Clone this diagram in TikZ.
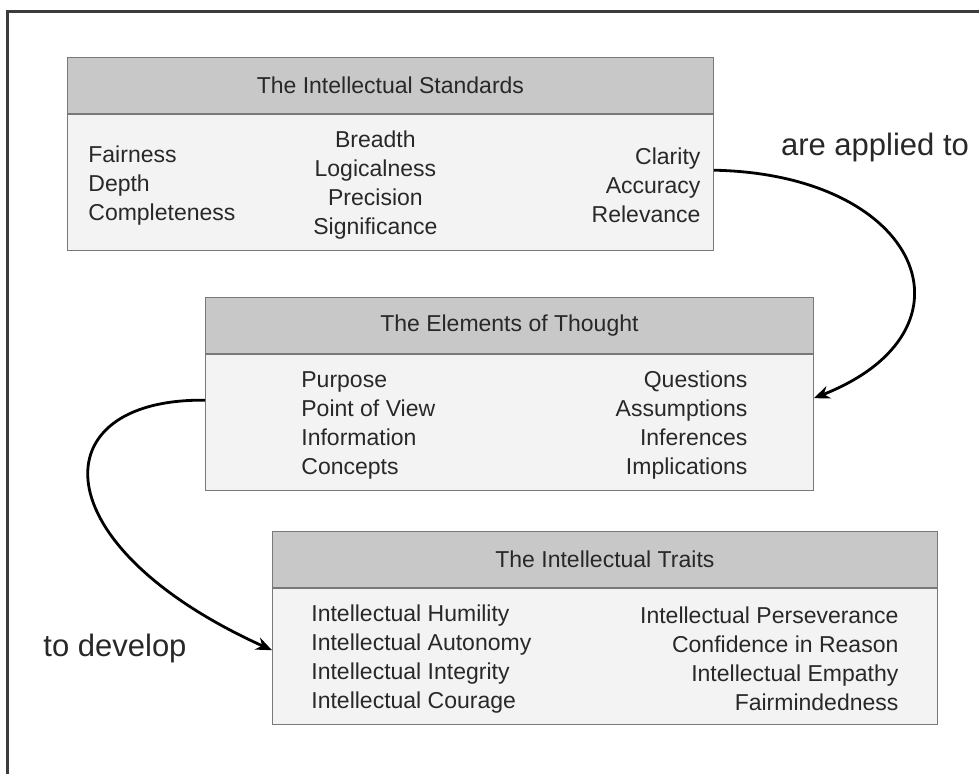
\documentclass[tikz,border=0pt]{standalone}
\usepackage{fontspec}
\setmainfont{Liberation Sans}
\usetikzlibrary{arrows.meta, positioning}

\definecolor{headgray}{RGB}{200,200,200}
\definecolor{bodygray}{RGB}{243,243,243}
\definecolor{edgegray}{RGB}{120,120,120}
\definecolor{textgray}{RGB}{40,40,40}
\definecolor{framegray}{RGB}{60,60,60}

\begin{document}
\begin{tikzpicture}[x=0.5pt, y=-0.5pt,
    head/.style={draw=edgegray, fill=headgray, text=textgray, font=\fontsize{11.5}{14.5}\selectfont, minimum height=28pt, inner sep=0pt, anchor=north west},
    body/.style={draw=edgegray, fill=bodygray, minimum height=68pt, inner sep=0pt},
    col/.style={text=textgray, font=\fontsize{11.5}{14.5}\selectfont, inner sep=0pt, yshift=-1.5pt},
    flow/.style={line width=1.4pt, -{Stealth[length=8pt, width=6.5pt]}},
    lbl/.style={text=textgray, font=\fontsize{15.5}{18}\selectfont, inner sep=0pt}]

    \useasboundingbox (0,0) rectangle (979,774);
    \clip (0,0) rectangle (979,774);
    \draw[line width=1.5pt, framegray] (7,800) -- (7,12) -- (1000,12);

    % standards
    \node[head, minimum width=323pt] (stdhead) at (67,57) {The Intellectual Standards};
    \node[body, minimum width=323pt, below=0pt of stdhead] (stdbody) {};
    \node[col, align=left, right=10.5pt of stdbody.west] (stdleft) {Fairness\\Depth\\Completeness};
    \node[col, align=center] (stdmid) at ([xshift=-7.5pt]stdbody.center) {Breadth\\Logicalness\\Precision\\Significance};
    \node[col, align=right, left=6.5pt of stdbody.east] (stdright) {Clarity\\Accuracy\\Relevance};

    % elements
    \node[head, minimum width=304pt] (elemhead) at (205,297) {The Elements of Thought};
    \node[body, minimum width=304pt, below=0pt of elemhead] (elembody) {};
    \node[col, align=left, right=48pt of elembody.west] (elemleft) {Purpose\\Point of View\\Information\\Concepts};
    \node[col, align=right, left=33pt of elembody.east] (elemright) {Questions\\Assumptions\\Inferences\\Implications};

    % traits
    \node[head, minimum width=332.5pt] (traithead) at (272,531) {The Intellectual Traits};
    \node[body, minimum width=332.5pt, below=0pt of traithead] (traitbody) {};
    \node[col, align=left, right=19.5pt of traitbody.west] (traitleft) {Intellectual Humility\\Intellectual Autonomy\\Intellectual Integrity\\Intellectual Courage};
    \node[col, align=right, left=19.5pt of traitbody.east] (traitright) {Intellectual Perseverance\\Confidence in Reason\\Intellectual Empathy\\Fairmindedness};

    \node[lbl] (applied) at (875,147) {are applied to};
    \node[lbl] (develop) at (115,648) {to develop};

    \draw[flow] ([yshift=6pt]stdbody.east) .. controls +(207,4) and +(172,-68) .. ([yshift=12pt]elembody.east);
    \draw[flow] ([yshift=11pt]elembody.west) .. controls +(-165,-2) and +(-232,-105) .. ([yshift=3pt]traitbody.west);
\end{tikzpicture}
\end{document}
